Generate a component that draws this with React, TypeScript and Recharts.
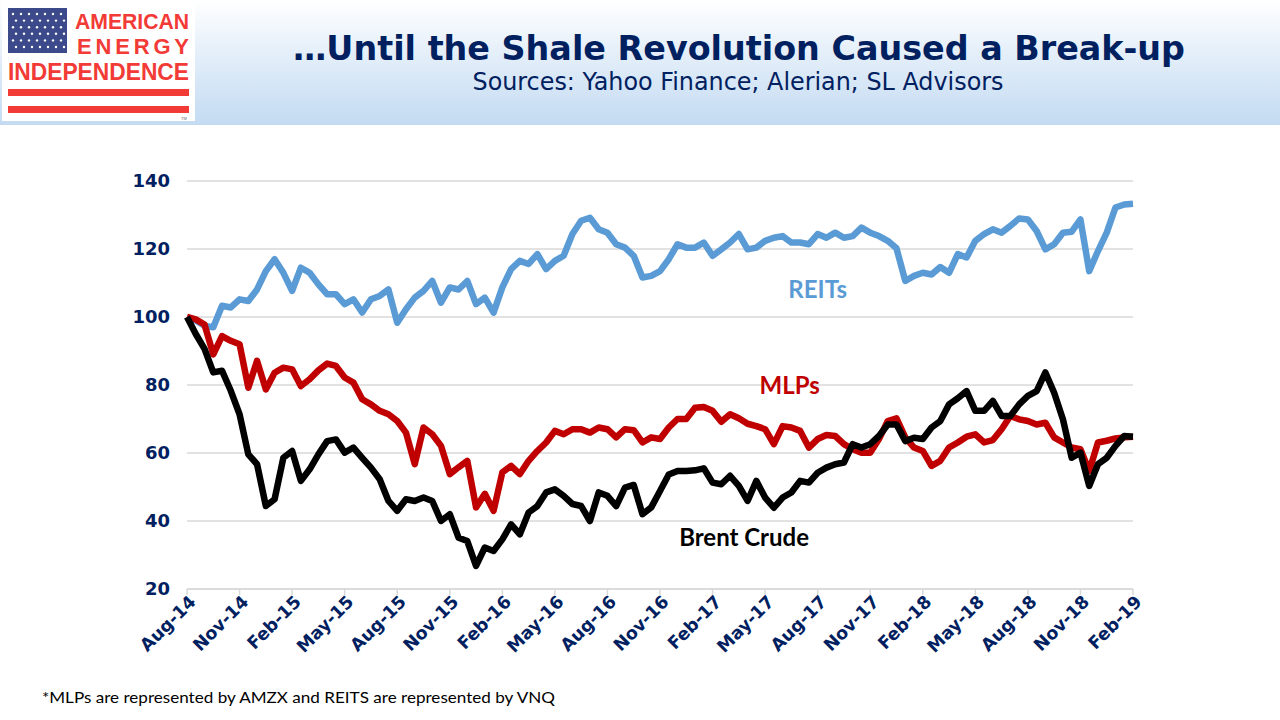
import React from "react";
import {
  LineChart, Line, XAxis, YAxis, CartesianGrid, ReferenceDot,
} from "recharts";

// half-month samples, Aug-14 .. Feb-19 (index 0 = start of Aug-14)
const REITS = [
  100, 99, 97.4, 97, 103.3, 102.8, 105.2, 104.7, 108.1, 113.5,
  117, 113, 107.7, 114.5, 113, 109.6, 106.7, 106.7, 103.8, 105.2,
  101.3, 105.2, 106.2, 108.1, 98.3, 102.3, 105.7, 107.7, 110.6, 104.2,
  108.7, 108.1, 110.6, 103.8, 105.7, 101.3, 108.7, 114.1, 116.5, 115.6,
  118.5, 114.1, 116.5, 118, 124.4, 128.3, 129.2, 125.8, 124.8, 121.4,
  120.4, 118, 111.6, 112.1, 113.5, 117, 121.4, 120.4, 120.4, 121.9,
  118, 119.9, 121.9, 124.4, 119.9, 120.4, 122.4, 123.3, 123.8, 121.9,
  121.9, 121.4, 124.4, 123.3, 124.8, 123.3, 123.8, 126.3, 124.8, 123.8,
  122.4, 120.2, 110.6, 112.1, 113, 112.5, 114.7, 113, 118.5, 117.5,
  122.4, 124.4, 125.8, 124.8, 126.8, 129, 128.7, 125.3, 119.9, 121.4,
  124.8, 125.1, 128.7, 113.5, 119.4, 124.8, 132.2, 133.1, 133.3,
];

const MLPS = [
  100, 99.3, 97.8, 89, 94.4, 93, 92, 79.2, 87.1, 78.7,
  83.6, 85.1, 84.6, 79.7, 81.7, 84.3, 86.3, 85.6, 82.2, 80.7,
  75.8, 74.3, 72.4, 71.4, 69.4, 66, 56.7, 67.5, 65.5, 62.1,
  53.8, 55.8, 57.7, 44, 48, 43, 54.3, 56.2, 53.8, 57.7,
  60.6, 63.1, 66.5, 65.5, 67, 67, 66, 67.5, 67, 64.6,
  67, 66.7, 63.1, 64.6, 64.1, 67.5, 70, 70, 73.3, 73.5,
  72.4, 69.2, 71.4, 70.2, 68.6, 67.9, 67, 62.6, 67.9, 67.5,
  66.5, 61.6, 64.1, 65.3, 65, 62.6, 61.1, 60.1, 60.1, 64.1,
  69.4, 70.2, 64.6, 61.6, 60.6, 56.2, 57.7, 61.6, 63.1, 64.8,
  65.5, 63.1, 63.8, 67, 70.9, 69.9, 69.4, 68.4, 68.9, 64.6,
  63.1, 61.6, 61.1, 54.7, 63.1, 63.6, 64.3, 64.6, 64.8,
];

const BRENT = [
  100, 95, 90.6, 83.7, 84.2, 78.3, 71.4, 59.6, 56.7, 44.4,
  46.4, 58.6, 60.6, 51.8, 55.2, 59.6, 63.5, 64, 60.1, 61.6,
  58.6, 55.7, 52.3, 45.9, 43, 46.4, 45.9, 46.9, 45.9, 40,
  42, 35.1, 34.1, 26.8, 32.2, 31.2, 34.6, 39, 36.1, 42.5,
  44.4, 48.4, 49.3, 47.4, 45, 44.4, 40, 48.4, 47.4, 44.4,
  49.8, 50.6, 42, 44, 48.8, 53.7, 54.7, 54.7, 54.9, 55.5,
  51.3, 50.8, 53.3, 50.3, 45.9, 51.8, 46.9, 43.9, 46.9, 48.4,
  51.8, 51.3, 54.2, 55.7, 56.7, 57.2, 62.6, 61.6, 62.6, 65,
  68.4, 68.4, 63.5, 64.5, 64.1, 67.5, 69.4, 74.3, 76.1, 78.2,
  72.4, 72.4, 75.3, 70.9, 70.9, 74.3, 76.8, 78.2, 83.7, 77.7,
  69.9, 58.6, 60.1, 50.3, 56.7, 58.6, 62.1, 65, 64.8,
];

const TICK_MONTHS = [0, 3, 6, 9, 12, 15, 18, 21, 24, 27, 30, 33, 36, 39, 42, 45, 48, 51, 54];
const TICK_LABELS = [
  "Aug-14", "Nov-14", "Feb-15", "May-15", "Aug-15", "Nov-15", "Feb-16",
  "May-16", "Aug-16", "Nov-16", "Feb-17", "May-17", "Aug-17", "Nov-17",
  "Feb-18", "May-18", "Aug-18", "Nov-18", "Feb-19",
];
const Y_TICKS = [20, 40, 60, 80, 100, 120, 140];

const data = REITS.map((r, i) => ({
  t: i / 2,
  reits: r,
  mlps: MLPS[i],
  brent: BRENT[i],
}));

const NAVY = "#002060";
const TICK_FONT = "'DejaVu Sans', sans-serif";

function XTick({ x, y, payload }: any) {
  const idx = TICK_MONTHS.indexOf(payload.value);
  return (
    <g transform={`translate(${x + 5},${y + 1})`}>
      <text
        x={0}
        y={0}
        dy="0.4em"
        textAnchor="end"
        transform="rotate(-45)"
        fill={NAVY}
        fontSize={17.5}
        fontWeight="bold"
        fontFamily={TICK_FONT}
      >
        {TICK_LABELS[idx]}
      </text>
    </g>
  );
}

function Logo() {
  const stars = [];
  for (let r = 0; r < 6; r++) {
    for (let c = 0; c < 7; c++) {
      stars.push(<circle key={`${r}-${c}`} cx={13 + c * 8 + (r % 2) * 3} cy={14 + r * 6.6} r={1.2} fill="#fff" />);
    }
  }
  return (
    <svg width={198} height={124} style={{ position: "absolute", left: 0, top: 0 }}>
      <rect x={2} y={2} width={193} height={119} fill="#fff" />
      <rect x={8} y={8} width={59} height={45} fill="#3c4a8c" />
      {stars}
      <g fontFamily="'Liberation Sans', Arial, sans-serif" fontWeight="bold" fill="#f23a36">
        <text x={75} y={29} fontSize={22} textLength={114} lengthAdjust="spacingAndGlyphs">AMERICAN</text>
        <text x={77} y={54} fontSize={22} textLength={112} lengthAdjust="spacing">ENERGY</text>
        <text x={8} y={80} fontSize={23} textLength={181} lengthAdjust="spacingAndGlyphs">INDEPENDENCE</text>
      </g>
      <rect x={8} y={89} width={181} height={7} fill="#f23a36" />
      <rect x={8} y={106} width={181} height={7} fill="#f23a36" />
      <text x={181} y={120} fontSize={4} fill="#666" fontFamily="sans-serif">TM</text>
    </svg>
  );
}

export default function App() {
  return (
    <div style={{ position: "absolute", left: 0, top: 0, width: 1280, height: 720, background: "#fff", overflow: "hidden" }}>
      <div
        style={{
          position: "absolute", left: 0, top: 0, width: 1280, height: 125,
          background: "linear-gradient(to bottom, #ffffff 0%, #e3eef9 45%, #c3dbf2 100%)",
        }}
      />
      <Logo />
      <svg width={1280} height={125} style={{ position: "absolute", left: 0, top: 0 }}>
        <text x={739} y={60} textAnchor="middle" fill={NAVY} fontSize={34} fontWeight="bold"
          fontFamily={TICK_FONT} textLength={892} lengthAdjust="spacingAndGlyphs">
          …Until the Shale Revolution Caused a Break-up
        </text>
        <text x={738} y={90} textAnchor="middle" fill={NAVY} fontSize={24}
          fontFamily={TICK_FONT} textLength={531} lengthAdjust="spacingAndGlyphs">
          Sources: Yahoo Finance; Alerian; SL Advisors
        </text>
      </svg>
      <div style={{ position: "absolute", left: 0, top: 0 }}>
        <LineChart width={1280} height={720} data={data}
          margin={{ top: 181, right: 147, bottom: 71, left: 127 }}>
          <CartesianGrid vertical={false} stroke="#d9d9d9" strokeWidth={1.5} />
          <XAxis
            dataKey="t"
            type="number"
            domain={[0, 54]}
            ticks={TICK_MONTHS}
            interval={0}
            height={60}
            axisLine={{ stroke: "#d9d9d9", strokeWidth: 1.5 }}
            tickLine={{ stroke: "#d9d9d9", strokeWidth: 1.5 }}
            tickSize={6}
            tick={<XTick />}
          />
          <YAxis
            type="number"
            domain={[20, 140]}
            ticks={Y_TICKS}
            width={60}
            axisLine={false}
            tickLine={false}
            tickMargin={11}
            tick={{ fill: NAVY, fontSize: 18, fontWeight: "bold", fontFamily: TICK_FONT }}
          />
          <Line type="linear" dataKey="reits" stroke="#5b9bd5" strokeWidth={6.5} dot={false}
            isAnimationActive={false} strokeLinejoin="round" />
          <Line type="linear" dataKey="mlps" stroke="#c00000" strokeWidth={6.5} dot={false}
            isAnimationActive={false} strokeLinejoin="round" />
          <Line type="linear" dataKey="brent" stroke="#000000" strokeWidth={6.5} dot={false}
            isAnimationActive={false} strokeLinejoin="round" />
          <ReferenceDot x={36} y={108} r={0} fill="none" stroke="none"
            label={{ value: "REITs", position: "center", fill: "#5b9bd5", fontSize: 24, fontWeight: "bold", fontFamily: "Lato, sans-serif" }} />
          <ReferenceDot x={34.4} y={80} r={0} fill="none" stroke="none"
            label={{ value: "MLPs", position: "center", fill: "#c00000", fontSize: 24, fontWeight: "bold", fontFamily: "Lato, sans-serif" }} />
          <ReferenceDot x={31.8} y={35.3} r={0} fill="none" stroke="none"
            label={{ value: "Brent Crude", position: "center", fill: "#000", fontSize: 24, fontWeight: "bold", fontFamily: "Lato, sans-serif" }} />
        </LineChart>
      </div>
      <svg width={1280} height={30} style={{ position: "absolute", left: 0, top: 686 }}>
        <text x={42} y={17} fontSize={16} fill="#000" fontFamily="Lato, sans-serif"
          textLength={513} lengthAdjust="spacingAndGlyphs">
          *MLPs are represented by AMZX and REITS are represented by VNQ
        </text>
      </svg>
    </div>
  );
}
